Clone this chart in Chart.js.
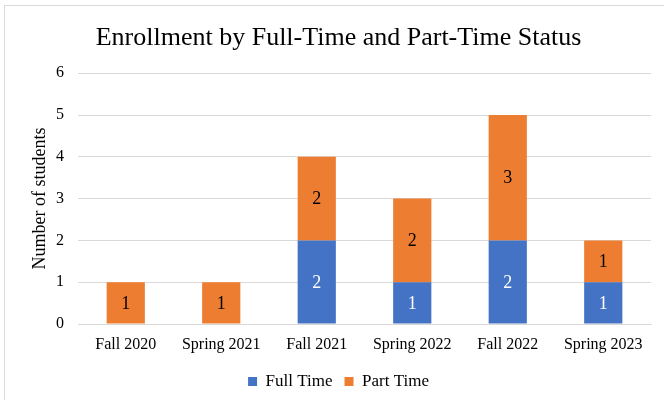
<!DOCTYPE html>
<html>
<head>
<meta charset="utf-8">
<script src="https://cdn.jsdelivr.net/npm/chart.js@4.4.0/dist/chart.umd.min.js"></script>
<style>
  html, body { margin: 0; padding: 0; background: #fff; }
  #wrap { position: relative; width: 664px; height: 400px; overflow: hidden; }
  #frame { position: absolute; left: 4px; top: 5px; width: 720px; height: 460px; border: 1px solid #d9d9d9; }
  canvas { position: absolute; left: 0; top: 0; }
</style>
</head>
<body>
<div id="wrap">
  <div id="frame"></div>
  <canvas id="enrollChart" width="664" height="400"></canvas>
</div>
<script>
// chart values
const terms = ['Fall 2020', 'Spring 2021', 'Fall 2021', 'Spring 2022', 'Fall 2022', 'Spring 2023'];
const fullTime = [0, 0, 2, 1, 2, 1];
const partTime = [1, 1, 2, 2, 3, 1];
const yTicks = [0, 1, 2, 3, 4, 5, 6];

const serif = "'Liberation Serif', 'Times New Roman', serif";

// writes the value in the middle of each bar piece (skips zeros)
const barLabels = {
  id: 'barLabels',
  afterDatasetsDraw(chart) {
    const ctx = chart.ctx;
    ctx.save();
    ctx.font = '18px ' + serif;
    ctx.textAlign = 'center';
    ctx.textBaseline = 'middle';
    chart.data.datasets.forEach((ds, i) => {
      const meta = chart.getDatasetMeta(i);
      meta.data.forEach((bar, j) => {
        const v = ds.data[j];
        if (!v) return;
        ctx.fillStyle = ds.labelColor;
        ctx.fillText(String(v), bar.x, (bar.y + bar.base) / 2 + 1);
      });
    });
    ctx.restore();
  }
};

const ctx = document.getElementById('enrollChart');
new Chart(ctx, {
  type: 'bar',
  data: {
    labels: terms,
    datasets: [
      { label: 'Full Time', data: fullTime, backgroundColor: '#4472C4', labelColor: '#ffffff' },
      { label: 'Part Time', data: partTime, backgroundColor: '#ED7D31', labelColor: '#000000' }
    ]
  },
  options: {
    responsive: false,
    animation: false,
    barPercentage: 0.4,
    categoryPercentage: 1.0,
    layout: { padding: { left: 26, right: 13, top: 0, bottom: 0 } },
    plugins: {
      title: {
        display: true,
        text: 'Enrollment by Full-Time and Part-Time Status',
        color: '#000',
        font: { family: serif, size: 26, weight: 'normal' },
        padding: { top: 23, bottom: 19 }
      },
      legend: {
        position: 'bottom',
        labels: {
          color: '#000',
          font: { family: serif, size: 17 },
          boxWidth: 9,
          boxHeight: 9,
          padding: 12
        }
      },
      tooltip: { enabled: false }
    },
    scales: {
      x: {
        stacked: true,
        grid: { display: false, drawTicks: false },
        border: { color: '#d9d9d9' },
        ticks: { color: '#000', font: { family: serif, size: 16 }, padding: 11 },
        afterFit: s => { s.height = 37; }
      },
      y: {
        stacked: true,
        min: 0,
        max: 6,
        grid: { color: '#d9d9d9', drawTicks: false },
        border: { display: false },
        afterBuildTicks: s => { s.ticks = yTicks.map(v => ({ value: v })); },
        ticks: { color: '#000', font: { family: serif, size: 16 }, padding: 14 },
        title: {
          display: true,
          text: 'Number of students',
          color: '#000',
          font: { family: serif, size: 18 },
          padding: { top: 3, bottom: 0 }
        },
        afterFit: s => { s.width = 52; }
      }
    }
  },
  plugins: [barLabels]
});
</script>
</body>
</html>
